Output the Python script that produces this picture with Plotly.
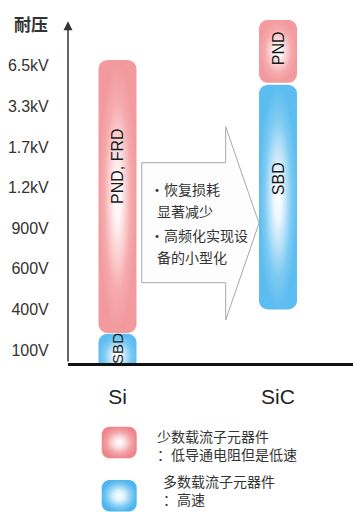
import numpy as np
import plotly.graph_objects as go

# Breakdown-voltage levels on the vertical axis (bottom to top)
voltage_levels = ["100V", "400V", "600V", "900V", "1.2kV", "1.7kV", "3.3kV", "6.5kV"]
materials = ["Si", "SiC"]

# Voltage span covered by each device family, in voltage-level units
device_names = ["PND, FRD", "SBD", "PND", "SBD"]
device_material = ["Si", "Si", "SiC", "SiC"]
device_low = [0.42, -0.70, 6.58, 1.00]
device_high = [7.14, 0.40, 8.13, 6.53]
device_carrier = ["minority", "majority", "minority", "majority"]

# Carrier-type key
carrier_types = ["minority", "majority"]
carrier_title = ["少数载流子元器件", "多数载流子元器件"]
carrier_note = ["：低导通电阻但是低速", "：高速"]

# Benefits written inside the transition arrow
benefit_lines = ["·恢复损耗", "显著减少", "·高频化实现设", "备的小型化"]

# ---------------------------------------------------------------- layout
W, H = 353, 512
PLOT_L, PLOT_R, PLOT_T, PLOT_B = 68, 353, 10, 363
y_range = [-0.320, 8.374]
x_range = [-0.3084, 1.4673]
kx = (PLOT_R - PLOT_L) / (x_range[1] - x_range[0])   # px per x unit
ky = (PLOT_B - PLOT_T) / (y_range[1] - y_range[0])   # px per y unit

BAR_PX = 38
CORNER_PX = 9
label_frac = [0.61, 0.5, 0.55, 0.58]
label_size = [16, 15, 16, 16]

FILL = {
    "minority": [[0, "#ffffff"], [0.2, "#fff2f2"], [0.45, "#fbcfd1"],
                 [0.7, "#f6aaad"], [1, "#f29a9e"]],
    "majority": [[0, "#ffffff"], [0.2, "#eef8fe"], [0.45, "#b8e2f8"],
                 [0.7, "#7fcbf3"], [1, "#5dbdf0"]],
}
KEY_FILL = {
    "minority": [[0, "#ffffff"], [0.3, "#fce4e5"], [0.7, "#f3a3a7"], [1, "#ee878c"]],
    "majority": [[0, "#ffffff"], [0.3, "#ddf2fd"], [0.7, "#82ccf3"], [1, "#4fb5ec"]],
}

CJK = "Noto Sans CJK SC"
LATIN = "Liberation Sans, Arial, sans-serif"


def rounded_rect(xc, half_w, y0, y1, r_px, sx, sy, n=10):
    """Outline of a rounded rectangle in data units (sx, sy = px per unit)."""
    rx, ry = r_px / sx, r_px / sy
    corners = [
        (xc + half_w - rx, y1 - ry, 0, 90),
        (xc - half_w + rx, y1 - ry, 90, 180),
        (xc - half_w + rx, y0 + ry, 180, 270),
        (xc + half_w - rx, y0 + ry, 270, 360),
    ]
    xs, ys = [], []
    for cx, cy, a0, a1 in corners:
        t = np.radians(np.linspace(a0, a1, n))
        xs.extend(cx + rx * np.cos(t))
        ys.extend(cy + ry * np.sin(t))
    xs.append(xs[0])
    ys.append(ys[0])
    return xs, ys


fig = go.Figure()
annotations = []

# Device bars
half_w = BAR_PX / 2 / kx
for i, name in enumerate(device_names):
    xc = materials.index(device_material[i])
    xs, ys = rounded_rect(xc, half_w, device_low[i], device_high[i], CORNER_PX, kx, ky)
    fig.add_trace(go.Scatter(
        x=xs, y=ys, mode="none", fill="toself",
        fillgradient=dict(type="radial", colorscale=FILL[device_carrier[i]]),
        hoverinfo="skip", showlegend=False, xaxis="x", yaxis="y",
    ))
    vis_low = max(device_low[i], y_range[0])
    y_lab = vis_low + label_frac[i] * (device_high[i] - vis_low)
    annotations.append(dict(
        x=xc, y=y_lab, xref="x", yref="y", text=name, showarrow=False,
        textangle=-90, font=dict(family=LATIN, size=label_size[i], color="#1a1a1a"),
        xanchor="center", yanchor="middle",
    ))

# Transition arrow between the two material columns
tip_x = materials.index("SiC") - half_w
arrow = dict(body_l=0.151, neck=0.674, body_t=4.613, body_b=1.658,
             head_t=5.500, head_b=0.739, tip_y=3.121)
arrow_path = (
    f"M {arrow['body_l']},{arrow['body_t']} L {arrow['neck']},{arrow['body_t']} "
    f"L {arrow['neck']},{arrow['head_t']} L {tip_x},{arrow['tip_y']} "
    f"L {arrow['neck']},{arrow['head_b']} L {arrow['neck']},{arrow['body_b']} "
    f"L {arrow['body_l']},{arrow['body_b']} Z"
)
shapes = [dict(type="path", path=arrow_path, xref="x", yref="y",
               fillcolor="#fdfdfd", line=dict(color="#a9a9a9", width=1), layer="below")]

benefit_pos = [(148, 189), (155, 211), (148, 235), (155, 257)]
for text, (px, py) in zip(benefit_lines, benefit_pos):
    annotations.append(dict(
        x=px / W, y=1 - py / H, xref="paper", yref="paper", text=text,
        showarrow=False, xanchor="left", yanchor="middle",
        font=dict(family=CJK, size=14, color="#333333"),
    ))

# Vertical axis arrow and its title
annotations.append(dict(
    x=x_range[0], y=8.10, ax=x_range[0], ay=y_range[0],
    xref="x", yref="y", axref="x", ayref="y", text="", showarrow=True,
    arrowhead=2, arrowsize=1.2, arrowwidth=1.5, arrowcolor="#333333", standoff=0,
))
annotations.append(dict(
    x=31 / W, y=1 - 23 / H, xref="paper", yref="paper", text="<b>耐压</b>",
    showarrow=False, xanchor="center", yanchor="middle",
    font=dict(family=CJK, size=17, color="#333333"),
))

# Carrier-type key (drawn in a pixel-scaled helper subplot)
key_top = [426.7, 480.0]
key_h, key_x0, key_x1 = 31.6, 101.7, 136.7
text_pos = [(155, 445), (161, 490)]
for k, ctype in enumerate(carrier_types):
    xs, ys = rounded_rect((key_x0 + key_x1) / 2, (key_x1 - key_x0) / 2,
                          key_top[k], key_top[k] + key_h, 8, 1, 1)
    fig.add_trace(go.Scatter(
        x=xs, y=ys, mode="none", fill="toself",
        fillgradient=dict(type="radial", colorscale=KEY_FILL[ctype]),
        hoverinfo="skip", showlegend=False, xaxis="x2", yaxis="y2",
    ))
    px, py = text_pos[k]
    annotations.append(dict(
        x=px, y=py, xref="x2", yref="y2",
        text=f"{carrier_title[k]}<br>{carrier_note[k]}", showarrow=False,
        xanchor="left", yanchor="middle", align="left",
        font=dict(family=CJK, size=14, color="#333333"),
    ))

fig.update_layout(
    width=W, height=H, margin=dict(l=0, r=0, t=0, b=0),
    paper_bgcolor="white", plot_bgcolor="white", showlegend=False,
    font=dict(family=LATIN),
    xaxis=dict(
        domain=[PLOT_L / W, PLOT_R / W], range=x_range, tickvals=[0, 1], ticktext=materials,
        ticks="outside", ticklen=13, tickcolor="rgba(0,0,0,0)",
        tickfont=dict(family=LATIN, size=21, color="#222222"),
        showline=True, linecolor="#111111", linewidth=3,
        showgrid=False, zeroline=False, fixedrange=True, anchor="y",
    ),
    yaxis=dict(
        domain=[1 - PLOT_B / H, 1 - PLOT_T / H], range=y_range,
        tickvals=list(range(len(voltage_levels))), ticktext=voltage_levels,
        ticks="outside", ticklen=15, tickcolor="rgba(0,0,0,0)",
        tickfont=dict(family=LATIN, size=16, color="#333333"),
        showline=False, showgrid=False, zeroline=False, fixedrange=True, anchor="x",
    ),
    xaxis2=dict(domain=[0, 1], range=[0, W], visible=False, anchor="y2", fixedrange=True),
    yaxis2=dict(domain=[0, (H - 420) / H], range=[H, 420], visible=False, anchor="x2",
                fixedrange=True),
    shapes=shapes,
    annotations=annotations,
)

fig.write_html("out.html")
